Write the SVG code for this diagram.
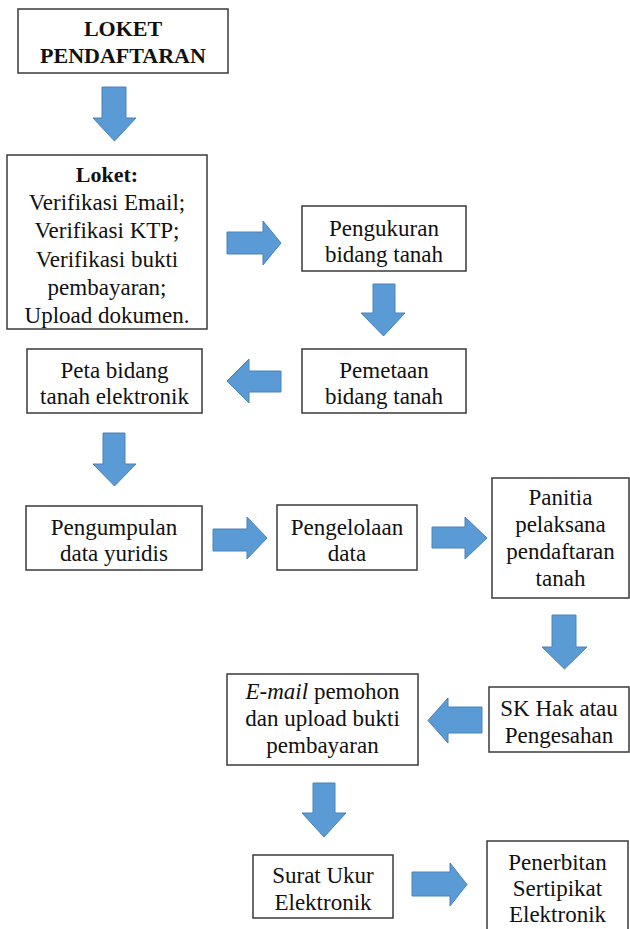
<svg xmlns="http://www.w3.org/2000/svg" width="630" height="929" viewBox="0 0 630 929">
<style>
.box{fill:#fff;stroke:#3a3a3a;stroke-width:1.5}
.t{font-family:"Liberation Serif","Times New Roman",serif;font-size:23px;fill:#111;text-anchor:middle}
.b{font-weight:bold;font-size:22px}
.arr{fill:#5b9bd5;stroke:#4a82b8;stroke-width:1}
</style>
<rect width="630" height="929" fill="#fff"/>
<g id="connectors">
<polygon class="arr" points="102,87 126,87 126,118 136,118 114.5,141 93,118 102,118"/>
<polygon class="arr" points="227,232 263,232 263,221 281,243 263,265 263,254 227,254"/>
<polygon class="arr" points="373,284 395,284 395,313 405,313 383.5,336 361,313 373,313"/>
<polygon class="arr" points="281,371 249,371 249,359 227,381 249,403 249,392 281,392"/>
<polygon class="arr" points="103,433 125,433 125,464 136,464 114.5,486 93,464 103,464"/>
<polygon class="arr" points="213,529 247,529 247,517 267,538 247,559 247,551 213,551"/>
<polygon class="arr" points="432,527 465,527 465,517 487,538 465,559 465,548 432,548"/>
<polygon class="arr" points="552,615 576,615 576,647 587,647 564.5,669 542,647 552,647"/>
<polygon class="arr" points="482,707 448,707 448,698 428,720.5 448,743 448,733 482,733"/>
<polygon class="arr" points="313,783 335,783 335,813 346,813 324,837 302,813 313,813"/>
<polygon class="arr" points="412,872 450,872 450,863 467,884.5 450,906 450,896 412,896"/>
</g>
<g id="loket-pendaftaran">
<rect class="box" x="18" y="9" width="210" height="64"/>
<text class="t b" x="123" y="36">LOKET</text>
<text class="t b" x="123" y="63">PENDAFTARAN</text>
</g>
<g id="loket">
<rect class="box" x="7" y="155" width="200" height="174"/>
<text class="t b" x="107" y="182">Loket:</text>
<text class="t" x="107" y="210">Verifikasi Email;</text>
<text class="t" x="107" y="238">Verifikasi KTP;</text>
<text class="t" x="107" y="267">Verifikasi bukti</text>
<text class="t" x="107" y="295">pembayaran;</text>
<text class="t" x="107" y="323">Upload dokumen.</text>
</g>
<g id="pengukuran">
<rect class="box" x="302" y="206" width="164" height="65"/>
<text class="t" x="384" y="236">Pengukuran</text>
<text class="t" x="384" y="262">bidang tanah</text>
</g>
<g id="pemetaan">
<rect class="box" x="302" y="349" width="164" height="64"/>
<text class="t" x="384" y="378">Pemetaan</text>
<text class="t" x="384" y="404">bidang tanah</text>
</g>
<g id="peta-bidang">
<rect class="box" x="27" y="349" width="175" height="64"/>
<text class="t" x="114.5" y="378">Peta bidang</text>
<text class="t" x="114.5" y="404">tanah elektronik</text>
</g>
<g id="pengumpulan">
<rect class="box" x="26" y="506" width="176" height="64"/>
<text class="t" x="114" y="535">Pengumpulan</text>
<text class="t" x="114" y="561">data yuridis</text>
</g>
<g id="pengelolaan">
<rect class="box" x="277" y="505" width="140" height="65"/>
<text class="t" x="347" y="535">Pengelolaan</text>
<text class="t" x="347" y="561">data</text>
</g>
<g id="panitia">
<rect class="box" x="492" y="478" width="137" height="120"/>
<text class="t" x="560.5" y="505">Panitia</text>
<text class="t" x="560.5" y="532">pelaksana</text>
<text class="t" x="560.5" y="559">pendaftaran</text>
<text class="t" x="560.5" y="586">tanah</text>
</g>
<g id="sk-hak">
<rect class="box" x="489" y="687" width="140" height="65"/>
<text class="t" x="559" y="716">SK Hak atau</text>
<text class="t" x="559" y="743">Pengesahan</text>
</g>
<g id="email-pemohon">
<rect class="box" x="227" y="674" width="191" height="91"/>
<text class="t" x="322.5" y="699"><tspan font-style="italic">E-mail</tspan> pemohon</text>
<text class="t" x="322.5" y="726">dan upload bukti</text>
<text class="t" x="322.5" y="753">pembayaran</text>
</g>
<g id="surat-ukur">
<rect class="box" x="253" y="855" width="140" height="63"/>
<text class="t" x="323" y="883">Surat Ukur</text>
<text class="t" x="323" y="910">Elektronik</text>
</g>
<g id="penerbitan">
<rect class="box" x="487" y="841" width="141" height="100"/>
<text class="t" x="557.5" y="870">Penerbitan</text>
<text class="t" x="557.5" y="896">Sertipikat</text>
<text class="t" x="557.5" y="922">Elektronik</text>
</g>
</svg>
